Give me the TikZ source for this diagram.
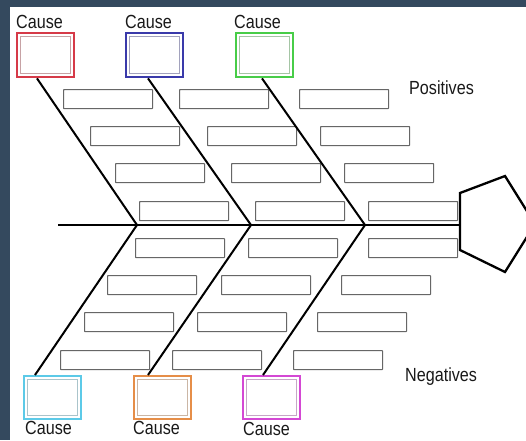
\documentclass[tikz,border=0pt]{standalone}
\usepackage{fontspec}
\setmainfont{Liberation Sans}
\newfontfamily\labelfont[FakeStretch=0.85]{Liberation Sans}
\definecolor{framecol}{RGB}{52,73,94}
\definecolor{cRed}{RGB}{214,58,72}
\definecolor{cBlue}{RGB}{58,58,170}
\definecolor{cGreen}{RGB}{72,205,72}
\definecolor{cCyan}{RGB}{92,202,232}
\definecolor{cOrange}{RGB}{230,142,72}
\definecolor{cMagenta}{RGB}{212,72,212}
\begin{document}
\begin{tikzpicture}[x=1pt,y=-1pt,
  slot/.style={draw=black!60, line width=1.2pt, minimum width=89pt, minimum height=19pt,
    inner sep=0pt, anchor=north west, rounded corners=0.6pt},
  causebox/.style={draw=#1, line width=2.4pt, minimum width=57pt, minimum height=44pt,
    inner sep=0pt, anchor=north west,
    path picture={\draw[#1!40!gray!60, line width=0.9pt]
      ([shift={(3.5pt,-3.5pt)}]path picture bounding box.north west) rectangle
      ([shift={(-3.5pt,3.5pt)}]path picture bounding box.south east);}},
  tag/.style={inner sep=0pt, anchor=base west, font=\labelfont\fontsize{19}{22}\selectfont, text=black!90},
  bone/.style={line width=2pt, black},
  spine/.style={line width=2.8pt, black},
  head/.style={line width=2.3pt, black, line join=miter}]

% canvas and frame strips
\useasboundingbox (0,0) rectangle (526,440);
\clip (0,0) rectangle (526,440);
\fill[white] (0,0) rectangle (526,440);
\fill[framecol] (0,0) rectangle (10,440);
\fill[framecol] (0,0) rectangle (526,7);

% cause boxes
\node[causebox=cRed] (cR) at (16,32) {};
\node[causebox=cBlue] (cB) at (125,32) {};
\node[causebox=cGreen] (cG) at (235,32) {};
\node[causebox=cCyan, minimum height=43pt] (cC) at (23,375) {};
\node[causebox=cOrange, minimum height=43pt] (cO) at (133,375) {};
\node[causebox=cMagenta, minimum height=43pt] (cM) at (242,375) {};

% labels
\node[tag] (tR) at (16,28) {Cause};
\node[tag] (tB) at (125,28) {Cause};
\node[tag] (tG) at (234,28) {Cause};
\node[tag] (tC) at (25,434) {Cause};
\node[tag] (tO) at (133,434) {Cause};
\node[tag] (tM) at (243,435.5) {Cause};
\node[tag] (pos) at (409,94) {Positives};
\node[tag] (neg) at (405,381) {Negatives};

% slots along the bones
\foreach \px/\py [count=\i] in {63/89,179/89,299/89,
                                90/126,207/126,320/126,
                                115/163,231/163,344/163,
                                139/201,255/201,368/201,
                                135/238,248/238,368/238,
                                107/275,221/275,341/275,
                                84/312,197/312,317/312,
                                60/350,172/350,293/350}
  \node[slot] (s\i) at (\px,\py) {};

% spine and junctions
\coordinate (tail) at (58,225);
\coordinate (j1) at (137,225);
\coordinate (j2) at (251,225);
\coordinate (j3) at (365,225);

% head pentagon
\coordinate (p1) at (460,193);
\coordinate (p2) at (505,176);
\coordinate (p3) at (535,224);
\coordinate (p4) at (505,272);
\coordinate (p5) at (460,250);
\coordinate (nose) at (460,225);
\draw[head] (p1) -- (p2) -- (p3) -- (p4) -- (p5) -- cycle;
\draw[spine] (tail) -- (nose);

% bones
\draw[bone] ([xshift=21pt]cR.south west) -- (j1);
\draw[bone] ([xshift=23pt]cB.south west) -- (j2);
\draw[bone] ([xshift=27pt]cG.south west) -- (j3);
\draw[bone] (j1) -- ([xshift=12pt]cC.north west);
\draw[bone] (j2) -- ([xshift=15pt]cO.north west);
\draw[bone] (j3) -- ([xshift=21pt]cM.north west);
\end{tikzpicture}
\end{document}
